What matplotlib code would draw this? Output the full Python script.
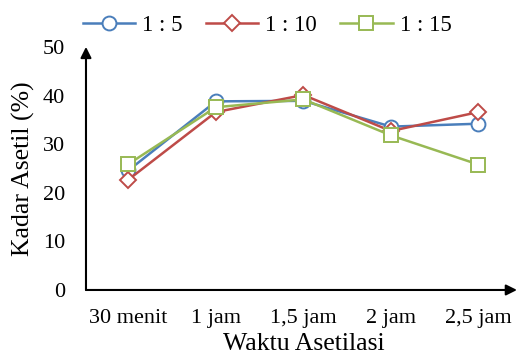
import matplotlib
matplotlib.use("Agg")
import matplotlib.pyplot as plt

plt.rcParams['font.family'] = ['Liberation Serif', 'DejaVu Serif']

# data
kategori = ['30 menit', '1 jam', '1,5 jam', '2 jam', '2,5 jam']
rasio_5 = [24.6, 38.8, 38.9, 33.6, 34.2]
rasio_10 = [22.7, 36.6, 40.1, 32.7, 36.6]
rasio_15 = [25.9, 37.6, 39.2, 31.8, 25.8]
label_seri = ['1 : 5', '1 : 10', '1 : 15']

fig = plt.figure(figsize=(5.18, 3.58), dpi=100)
ax = fig.add_axes([0.166, 0.190, 0.832, 0.679])

x = range(len(kategori))
ax.plot(x, rasio_5, color='#4a7ebb', lw=1.8, marker='o', ms=10, mfc='white', mew=1.4, label=label_seri[0])
ax.plot(x, rasio_10, color='#be4b48', lw=1.8, marker='D', ms=8.5, mfc='white', mew=1.4, label=label_seri[1])
ax.plot(x, rasio_15, color='#98b954', lw=1.8, marker='s', ms=9.5, mfc='white', mew=1.4, label=label_seri[2])

ax.set_xlim(-0.485, 4.44)
ax.set_ylim(0, 50)
ax.set_xticks(list(x))
ax.set_xticklabels(kategori)
ax.set_yticks([0, 10, 20, 30, 40, 50])
ax.tick_params(axis='both', length=0, labelsize=16)
ax.tick_params(axis='x', pad=14)
ax.tick_params(axis='y', pad=15)
for s in ax.spines.values():
    s.set_visible(False)

# panah sumbu
ax.annotate('', xy=(0, 1.0), xycoords='axes fraction', xytext=(0, 0),
            arrowprops=dict(arrowstyle='-|>', color='black', lw=1.5, mutation_scale=16, shrinkA=0, shrinkB=0))
ax.annotate('', xy=(1.0, 0), xycoords='axes fraction', xytext=(0, 0),
            arrowprops=dict(arrowstyle='-|>', color='black', lw=1.5, mutation_scale=16, shrinkA=0, shrinkB=0))

ax.set_xlabel('Waktu Asetilasi', fontsize=18.5)
ax.set_ylabel('Kadar Asetil (%)', fontsize=18.5)
ax.xaxis.set_label_coords(0.505, -0.175)
ax.yaxis.set_label_coords(-0.118, 0.5)

ax.legend(loc='center', bbox_to_anchor=(0.42, 1.09), ncol=3, frameon=False,
          fontsize=16.5, handlelength=2.3, columnspacing=1.0, handletextpad=0.3, borderaxespad=0)

fig.savefig('out.png', dpi=100)
